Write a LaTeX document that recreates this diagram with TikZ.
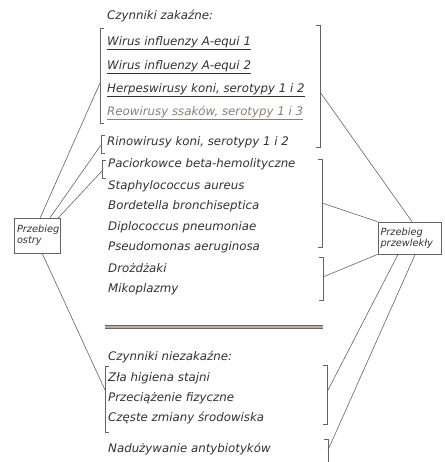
\documentclass[tikz,border=0pt]{standalone}
\usepackage{fontspec}
\setmainfont{DejaVu Sans}
\usetikzlibrary{calc}
\definecolor{ink}{HTML}{363030}
\definecolor{lineink}{HTML}{6A6262}
\definecolor{faded}{HTML}{8C7E72}
\definecolor{barfill}{HTML}{BFAE9C}
\tikzset{
  txt/.style={anchor=mid west, font=\fontsize{11.8}{14}\selectfont\itshape, text=ink, inner sep=0pt},
  fadedtxt/.style={txt, text=faded},
  boxnode/.style={draw=lineink, line width=0.6pt, font=\fontsize{9.8}{11}\selectfont\itshape, text=ink, align=left, inner sep=2pt, minimum height=0pt},
  conn/.style={draw=lineink, line width=0.6pt},
  brk/.style={draw=lineink, line width=0.7pt},
}
\begin{document}
\begin{tikzpicture}[x=1pt,y=-1pt]
\useasboundingbox (0,0) rectangle (444,462);
% boxes
\node[boxnode, minimum width=46pt, minimum height=35pt, text width=40pt] (ostry) at (37,235.5) {Przebieg\\ostry};
\node[boxnode, minimum width=63pt, minimum height=32pt, text width=58pt] (przew) at (409.5,238) {Przebieg\\przewlekły};
% texts
\node[txt] (t0) at (107,17) {Czynniki zakaźne:};
\node[txt] (t1) at (107,43) {\underline{Wirus influenzy A-equi 1}};
\node[txt] (t2) at (107,67) {\underline{Wirus influenzy A-equi 2}};
\node[txt] (t3) at (107,90) {\underline{Herpeswirusy koni, serotypy 1 i 2}};
\node[fadedtxt] (t4) at (107,113) {\underline{Reowirusy ssaków, serotypy 1 i 3}};
\node[txt] (t5) at (107,143) {Rinowirusy koni, serotypy 1 i 2};
\node[txt] (t6) at (108,165) {Paciorkowce beta-hemolityczne};
\node[txt] (t7) at (108,187) {Staphylococcus aureus};
\node[txt] (t8) at (108,207) {Bordetella bronchiseptica};
\node[txt] (t9) at (108,228) {Diplococcus pneumoniae};
\node[txt] (t10) at (108,248) {Pseudomonas aeruginosa};
\node[txt] (t11) at (108,270) {Drożdżaki};
\node[txt] (t12) at (108,290) {Mikoplazmy};
\node[txt] (t13) at (108,358) {Czynniki niezakaźne:};
\node[txt] (t14) at (108,379) {Zła higiena stajni};
\node[txt] (t15) at (108,399) {Przeciążenie fizyczne};
\node[txt] (t16) at (108,419) {Częste zmiany środowiska};
\node[txt] (t17) at (108,450) {Nadużywanie antybiotyków};
% separator bar
\draw[draw=lineink, double=barfill, double distance=1.8pt, line width=0.7pt] (105,327) -- (323,327);
% left brackets
\draw[brk] (104,28) -- (100,28) -- (100,123) -- (104,123);
\coordinate (lb1) at (100,83);
\draw[brk] (105,135) -- (101,135) -- (101,153) -- (105,153);
\coordinate (lb2) at (101,145);
\draw[brk] (106,160) -- (102,160) -- (102,178) -- (106,178);
\coordinate (lb3) at (102,171);
\draw[brk] (109,366) -- (105,366) -- (105,432) -- (109,432);
\coordinate (lb4) at (105,390);
% right brackets
\draw[brk] (316,25) -- (320,25) -- (320,147) -- (316,147);
\coordinate (rb1) at (320,92);
\draw[brk] (318,159) -- (322,159) -- (322,247) -- (318,247);
\coordinate (rb2) at (322,203);
\draw[brk] (319,257) -- (323,257) -- (323,300) -- (319,300);
\coordinate (rb3) at (323,277);
\draw[brk] (323,365) -- (327,365) -- (327,424) -- (323,424);
\coordinate (rb4) at (327,392);
\draw[brk] (324,439) -- (328,439) -- (328,462);
\coordinate (rb5) at (328,450);
% connectors to left box
\draw[conn] (lb1) -- ($(ostry.north west)!0.57!(ostry.north east)$);
\draw[conn] (lb2) -- ($(ostry.north west)!0.78!(ostry.north east)$);
\draw[conn] (lb3) -- ($(ostry.north west)!0.96!(ostry.north east)$);
\draw[conn] (lb4) -- ($(ostry.south west)!0.61!(ostry.south east)$);
% connectors to right box
\draw[conn] (rb1) -- ($(przew.north west)!0.54!(przew.north east)$);
\draw[conn] (rb2) -- (przew.north west);
\draw[conn] (rb3) -- (przew.south west);
\draw[conn] (rb4) -- ($(przew.south west)!0.32!(przew.south east)$);
\draw[conn] (rb5) -- ($(przew.south west)!0.59!(przew.south east)$);
\end{tikzpicture}
\end{document}
